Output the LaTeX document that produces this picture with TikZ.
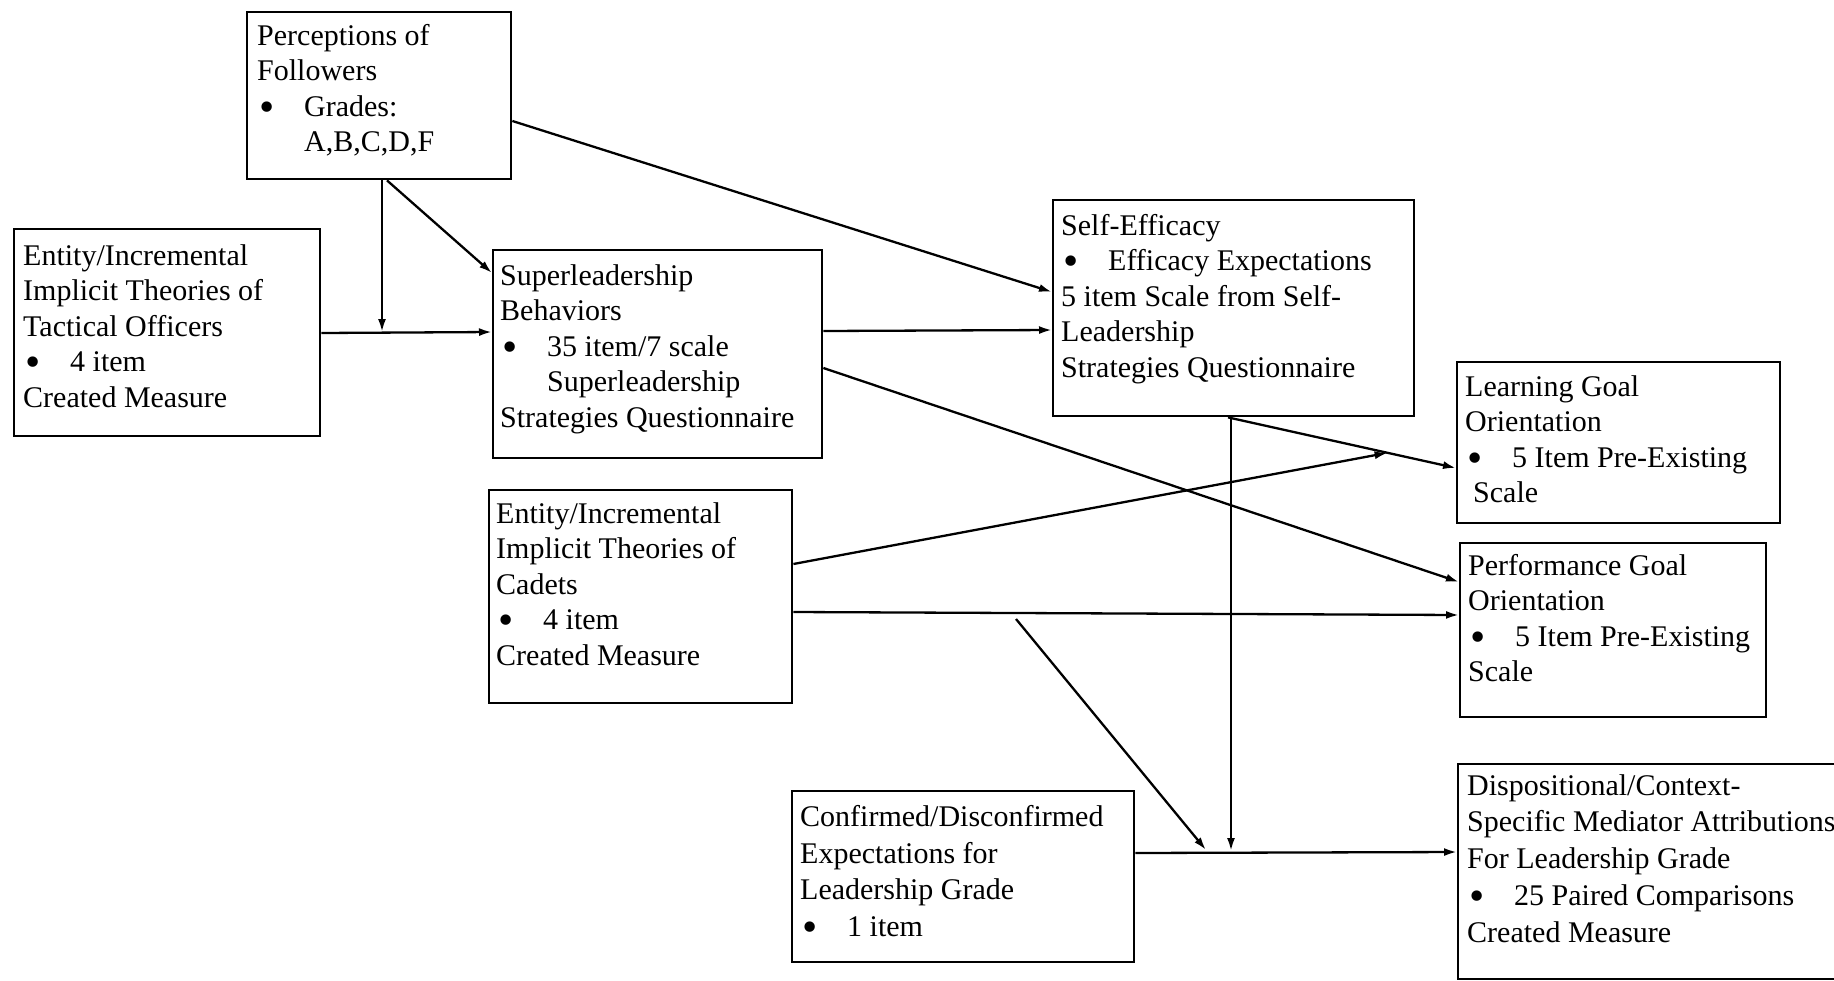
\documentclass[tikz,border=0pt]{standalone}
\usepackage{fontspec}
\setmainfont{Liberation Serif}
\usetikzlibrary{arrows.meta,calc}
\newcommand{\bul}{\makebox[47pt][l]{\hspace{2pt}\smash{\raisebox{-5pt}{\scalebox{1.45}{•}}}}}
\newcommand{\ind}{\hspace*{47pt}}
\begin{document}
\begin{tikzpicture}[x=1pt,y=-1pt,
  box/.style={draw, line width=2.4pt, inner sep=0pt, anchor=north west, rectangle},
  txt/.style={anchor=north west, inner sep=0pt, align=left, font=\fontsize{30}{35.5}\selectfont},
  txtw/.style={anchor=north west, inner sep=0pt, align=left, font=\fontsize{30}{36.8}\selectfont},
  arr/.style={line width=2.3pt, -{Latex[length=13pt,width=8pt]}}]
\useasboundingbox (0,0) rectangle (1834,980);
\clip (0,0) rectangle (1834,980);

% boxes
\node[box, minimum width=264pt, minimum height=167pt] (P) at (246,11) {};
\node[box, minimum width=306pt, minimum height=207pt] (T) at (13,228) {};
\node[box, minimum width=329pt, minimum height=208pt] (S) at (492,249) {};
\node[box, minimum width=361pt, minimum height=216pt] (SE) at (1052,199) {};
\node[box, minimum width=323pt, minimum height=161pt] (L) at (1456,361) {};
\node[box, minimum width=303pt, minimum height=213pt] (C) at (488,489) {};
\node[box, minimum width=342pt, minimum height=171pt] (CF) at (791,790) {};
\node[box, minimum width=306pt, minimum height=174pt] (Perf) at (1459,542) {};
\node[box, minimum width=403pt, minimum height=215pt] (D) at (1457,763) {};

% texts
\node[txt] (Pt) at (257,20.15) {\strut Perceptions of\\Followers\\\bul Grades:\\\ind A,B,C,D,F};
\node[txt] (Tt) at (23,240.15) {\strut Entity/Incremental\\Implicit Theories of\\Tactical Officers\\\bul 4 item\\Created Measure};
\node[txt] (St) at (500,260.15) {\strut Superleadership\\Behaviors\\\bul 35 item/7 scale\\\ind Superleadership\\Strategies Questionnaire};
\node[txt] (SEt) at (1061,210.15) {\strut Self-Efficacy\\\bul Efficacy Expectations\\5 item Scale from Self-\\Leadership\\Strategies Questionnaire};
\node[txt] (Lt) at (1465,371.15) {\strut Learning Goal\\Orientation\\\bul 5 Item Pre-Existing\\\hspace*{8pt}Scale};
\node[txt] (Ct) at (496,498.15) {\strut Entity/Incremental\\Implicit Theories of\\Cadets\\\bul 4 item\\Created Measure};
\node[txtw] (CFt) at (800,800.3) {\strut Confirmed/Disconfirmed\\Expectations for\\Leadership Grade\\\bul 1 item};
\node[txt] (Perft) at (1468,550.15) {\strut Performance Goal\\Orientation\\\bul 5 Item Pre-Existing\\Scale};
\node[txtw] (Dt) at (1467,769.1) {\strut Dispositional/Context-\\Specific Mediator Attributions\\For Leadership Grade\\\bul 25 Paired Comparisons\\Created Measure};

% junction points
\coordinate (j1) at (382,332);
\coordinate (j2) at ($(SE.south -| 1228,0)!0.7!(L.west |- 0,468)$);
\coordinate (j3) at (1231,851);
\coordinate (c1) at (1016,619);
\coordinate (j4) at (1206,850);

% connectors
\draw[arr] (T.east |- 0,333) -- (S.west |- 0,332);
\draw[arr] (P.south -| j1) -- (j1);
\draw[arr] (P.south -| 387,0) -- (S.west |- 0,273);
\draw[arr] (P.east |- 0,121) -- (SE.west |- 0,292);
\draw[arr] (S.east |- 0,331) -- (SE.west |- 0,330);
\draw[arr] (S.east |- 0,368) -- (Perf.west |- 0,582);
\draw[arr] (SE.south -| 1228,0) -- (L.west |- 0,468);
\draw[arr] (SE.south -| j3) -- (j3);
\draw[arr] (C.east |- 0,564) -- (j2);
\draw[arr] (C.east |- 0,612) -- (Perf.west |- 0,615);
\draw[arr] (c1) -- (j4);
\draw[arr] (CF.east |- 0,853) -- (D.west |- 0,852);
\end{tikzpicture}
\end{document}
